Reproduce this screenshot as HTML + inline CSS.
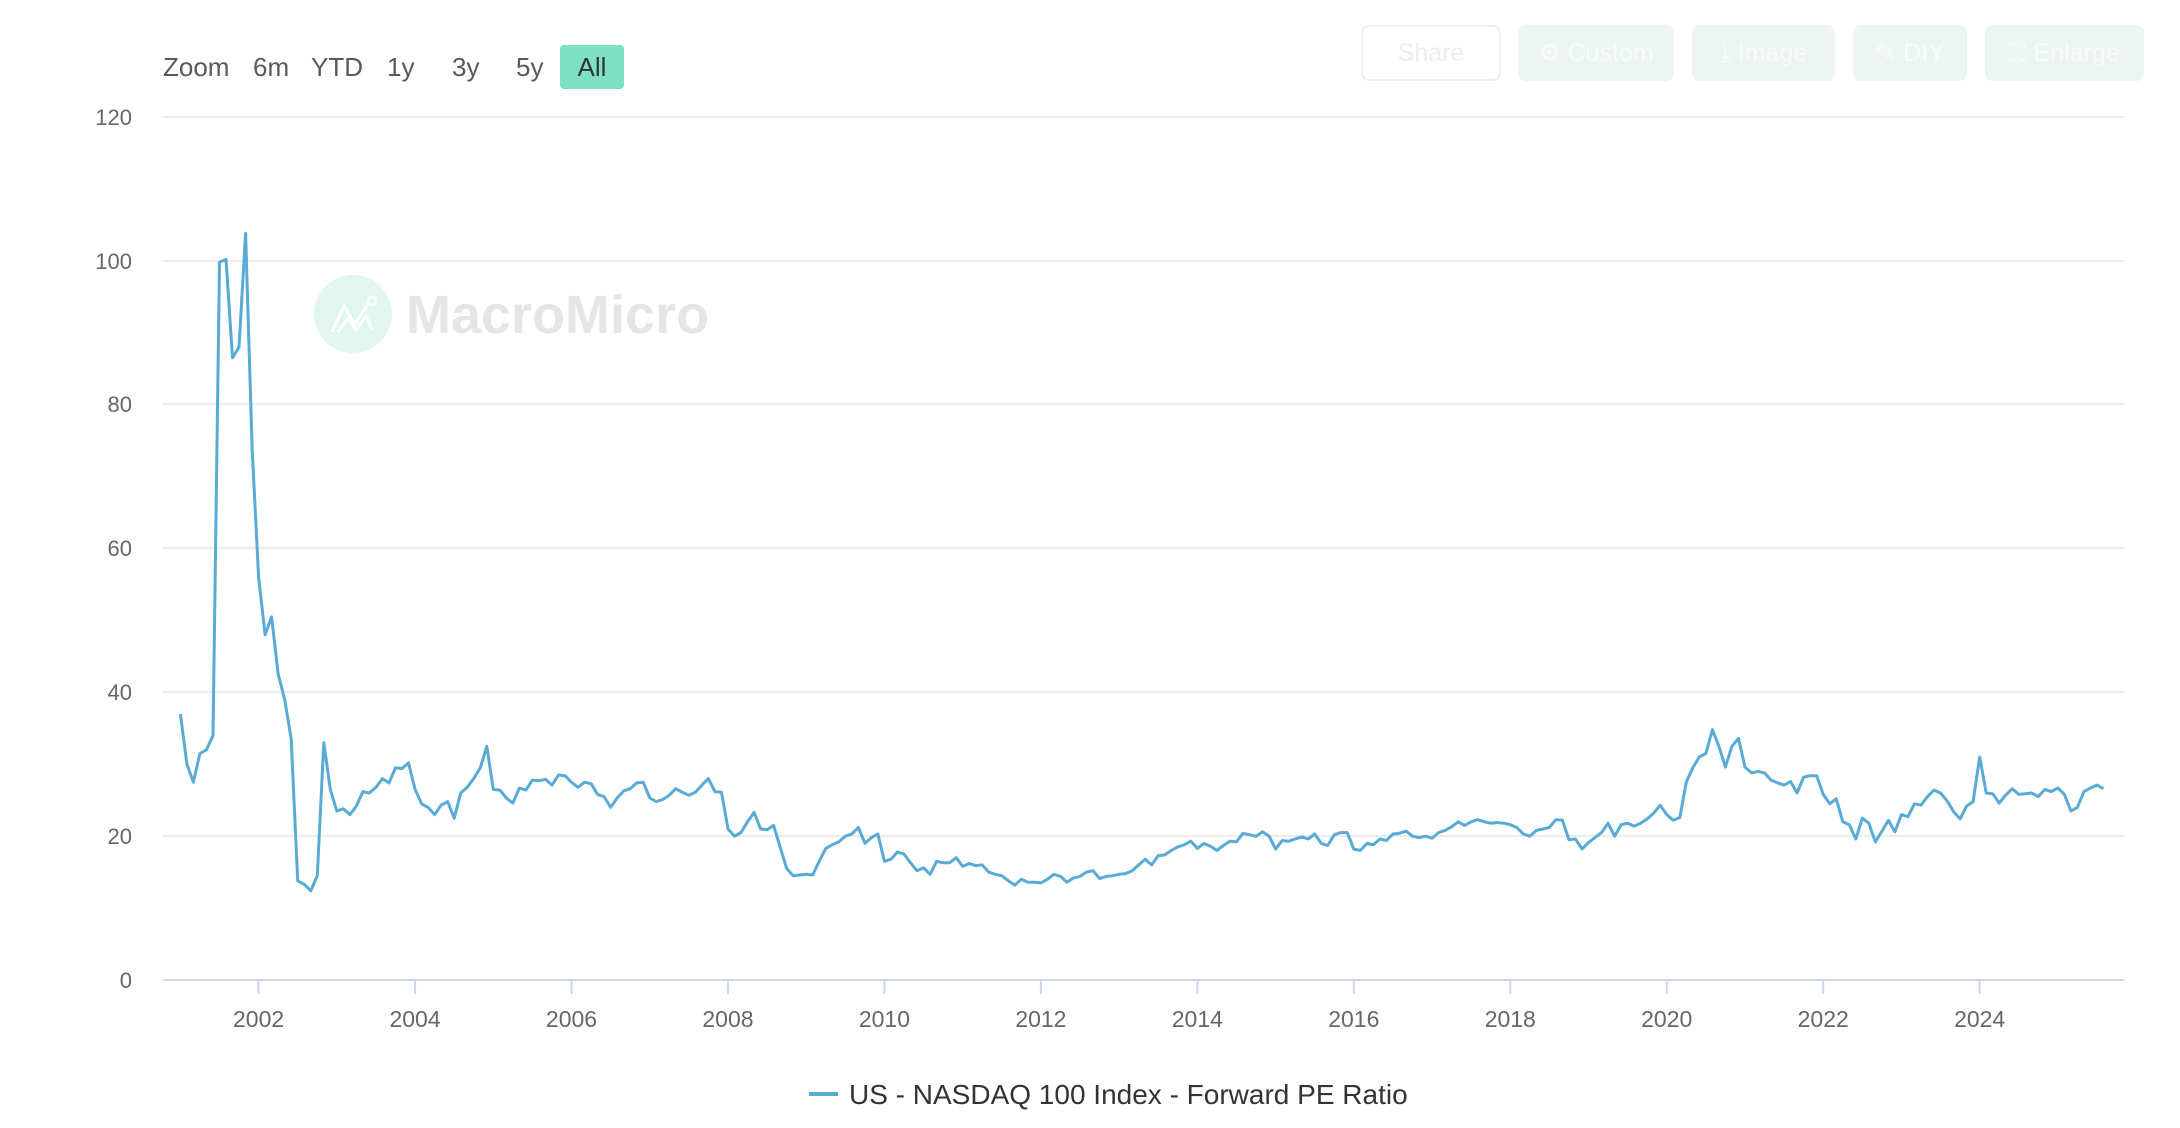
<!DOCTYPE html>
<html><head><meta charset="utf-8">
<style>
html,body{margin:0;padding:0;background:#fff;width:2180px;height:1128px;overflow:hidden;font-family:"Liberation Sans",sans-serif;}
.btn{position:absolute;top:25px;height:56px;border-radius:8px;background:#edf5f2;color:#f9fbfa;font-size:25px;line-height:56px;text-align:center;}
</style></head><body>
<svg width="2180" height="1128" style="position:absolute;left:0;top:0" font-family="Liberation Sans, sans-serif">
<g fill="#595959" font-size="26">
<text x="163" y="76">Zoom</text>
<text x="253" y="76">6m</text>
<text x="311" y="76">YTD</text>
<text x="387" y="76">1y</text>
<text x="452" y="76">3y</text>
<text x="516" y="76">5y</text>
</g>
<rect x="560" y="45" width="64" height="44" rx="4" fill="#7de0c3"/>
<text x="592" y="76" font-size="26" fill="#333" text-anchor="middle">All</text>

<g stroke="#e6e6e6" stroke-width="1.5">
<line x1="163" x2="2124" y1="117" y2="117"/>
<line x1="163" x2="2124" y1="261" y2="261"/>
<line x1="163" x2="2124" y1="404" y2="404"/>
<line x1="163" x2="2124" y1="548" y2="548"/>
<line x1="163" x2="2124" y1="692" y2="692"/>
<line x1="163" x2="2124" y1="836" y2="836"/>
</g>
<line x1="163" x2="2124" y1="980" y2="980" stroke="#ccd6eb" stroke-width="2"/>
<g fill="#666" font-size="22" text-anchor="end">
<text x="132" y="125">120</text><text x="132" y="269">100</text><text x="132" y="412">80</text>
<text x="132" y="556">60</text><text x="132" y="700">40</text><text x="132" y="844">20</text><text x="132" y="988">0</text>
</g>
<g id="xt" stroke="#ccd6eb" stroke-width="2"></g>
<g id="xl" fill="#666" font-size="23" text-anchor="middle"></g>

<circle cx="353" cy="314" r="39" fill="#e0f6ef"/>
<polyline points="332,332 344,306 355,324 368,304" fill="none" stroke="#fff" stroke-width="3"/>
<polyline points="338,332 348,318 356,330 366,316 372,330" fill="none" stroke="#fff" stroke-width="3"/>
<circle cx="372" cy="301" r="4" fill="none" stroke="#fff" stroke-width="2"/>
<text x="406" y="333" font-size="54" font-weight="bold" fill="#e4e5e7">MacroMicro</text>

<path id="ln" fill="none" stroke="#5aaad6" stroke-width="3" stroke-linejoin="round"/>

<line x1="809" x2="838" y1="1094" y2="1094" stroke="#5aaad6" stroke-width="4"/>
<text x="849" y="1104" font-size="28" fill="#333">US - NASDAQ 100 Index - Forward PE Ratio</text>
</svg>
<div class="btn" style="left:1361px;width:136px;background:#fff;border:2px solid #f0f0f0;height:52px;line-height:52px;color:#eaeeed">Share</div>
<div class="btn" style="left:1518px;width:156px">⚙ Custom</div>
<div class="btn" style="left:1692px;width:143px">⤓ Image</div>
<div class="btn" style="left:1853px;width:114px">✎ DIY</div>
<div class="btn" style="left:1985px;width:159px">⛶ Enlarge</div>
<script>
var v=[37,30,27.5,31.5,32,34,99.8,100.2,86.5,88,103.8,74,
56,48,50.5,42.5,39,33.5,13.8,13.3,12.4,14.5,33,26.5,
23.5,23.8,23,24.2,26.2,26,26.8,28,27.4,29.5,29.4,30.2,
26.5,24.5,24,23,24.3,24.8,22.5,26,26.8,28,29.5,32.5,
26.5,26.4,25.3,24.6,26.7,26.4,27.8,27.7,27.9,27.1,28.5,28.4,
27.5,26.8,27.5,27.3,25.8,25.5,24,25.3,26.3,26.6,27.4,27.5,
25.3,24.8,25.1,25.7,26.6,26.1,25.7,26.1,27.1,28,26.2,26.1,
21,20,20.5,22,23.3,21,20.9,21.5,18.5,15.5,14.5,14.6,
14.7,14.6,16.5,18.3,18.8,19.2,20,20.3,21.2,19,19.8,20.3,
16.5,16.8,17.8,17.5,16.3,15.2,15.6,14.7,16.5,16.3,16.3,17,
15.8,16.2,15.9,16,15,14.7,14.5,13.8,13.2,14,13.6,13.6,
13.5,14,14.7,14.4,13.6,14.2,14.4,15,15.2,14.1,14.4,14.5,
14.7,14.8,15.2,16,16.8,16,17.3,17.4,18,18.5,18.8,19.3,
18.3,19,18.6,18,18.7,19.3,19.2,20.4,20.2,20,20.6,20,
18.2,19.4,19.3,19.6,19.9,19.6,20.3,19,18.7,20.2,20.5,20.5,
18.2,18,19,18.8,19.6,19.4,20.3,20.4,20.7,20,19.8,20,
19.7,20.5,20.8,21.3,22,21.5,22,22.3,22,21.8,21.9,21.8,
21.6,21.2,20.3,20,20.8,21,21.2,22.3,22.2,19.5,19.6,18.2,
19.1,19.8,20.5,21.8,20,21.6,21.8,21.4,21.8,22.4,23.2,24.3,
23,22.2,22.6,27.5,29.5,31,31.5,34.8,32.5,29.6,32.5,33.6,
29.6,28.8,29,28.8,27.8,27.4,27.1,27.6,26,28.2,28.4,28.4,
25.8,24.5,25.2,22,21.6,19.6,22.5,21.8,19.2,20.7,22.2,20.6,
23,22.7,24.5,24.3,25.5,26.4,26,24.9,23.4,22.4,24.2,24.8,
31,26,25.9,24.6,25.7,26.6,25.8,25.9,26,25.5,26.5,26.2,
26.7,25.8,23.5,24,26.2,26.7,27.1,26.6];
var d="";
for(var i=0;i<v.length;i++){var yr=2001+i/12;var x=258.6+(yr-2002)*78.23;var y=980-v[i]*7.192;d+=(i?"L":"M")+x.toFixed(1)+","+y.toFixed(1);}
document.getElementById("ln").setAttribute("d",d);
var ns="http://www.w3.org/2000/svg",xt=document.getElementById("xt"),xl=document.getElementById("xl");
for(var y=2002;y<=2024;y+=2){var x=258.6+(y-2002)*78.23;
var l=document.createElementNS(ns,"line");l.setAttribute("x1",x);l.setAttribute("x2",x);l.setAttribute("y1",980);l.setAttribute("y2",994);xt.appendChild(l);
var t=document.createElementNS(ns,"text");t.setAttribute("x",x);t.setAttribute("y",1027);t.textContent=y;xl.appendChild(t);}
</script>
</body></html>
